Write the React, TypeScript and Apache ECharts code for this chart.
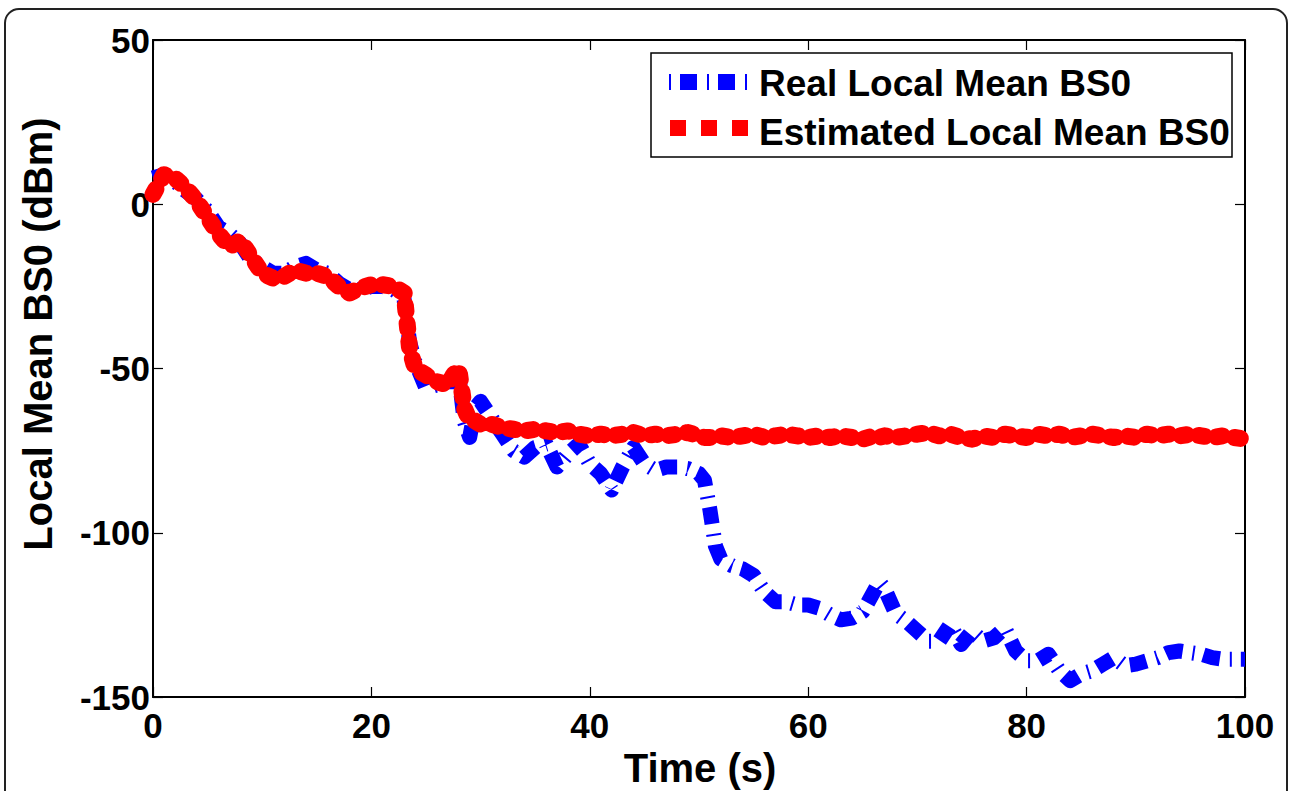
import React, { useEffect, useRef } from "react";
import * as echarts from "echarts";

// Sample times (s); a few half-second samples where the level changes quickly
const timeSec = [
  0, 1, 2, 3, 4, 5, 6, 7, 8, 9, 10, 11, 12, 13, 14, 15, 16, 17, 18, 19, 20, 21, 22, 22.5, 23, 23.5,
  24, 25, 26, 27, 27.5, 28, 28.5, 29, 29.5, 30, 31, 32, 33, 34, 35, 36, 37, 38, 39, 40, 41, 42, 43,
  44, 45, 46, 47, 48, 49, 50, 50.5, 51, 51.5, 52, 53, 54, 55, 56, 57, 58, 59, 60, 61, 62, 63, 64, 65,
  66, 66.5, 67, 68, 69, 70, 71, 72, 73, 74, 75, 76, 77, 78, 79, 80, 81, 82, 83, 84, 85, 86, 87, 88,
  89, 90, 91, 92, 93, 94, 95, 96, 97, 98, 99, 100,
];

// Real local mean of BS0 (dBm)
const realLocalMean = [
  8, 9, 7, 4, 1.5, -2, -7, -9, -12, -17, -19, -21, -21, -19, -18, -20, -21, -24, -26, -26, -25, -25,
  -26, -27, -29, -42, -48, -56, -55, -54, -54, -52, -66, -71, -62, -60, -65, -70, -75, -77, -74, -73,
  -80, -76, -73, -79, -82, -87, -80, -74, -79, -81, -80, -80, -80.5, -82, -84, -93, -104, -108, -110,
  -111, -113, -118, -121, -121, -122, -122, -123, -125, -126.5, -126, -124, -118, -115, -117, -124.5,
  -127, -130, -133, -133, -128, -134, -130, -133, -132, -129, -136, -139, -139, -137, -142, -145, -143,
  -142, -140, -138, -140.5, -140, -139, -138, -136.5, -136, -136.5, -137, -138, -138.5, -138.5, -138.5,
];

// Estimated local mean of BS0 (dBm)
const estimatedLocalMean = [
  3, 9, 8, 5, 1, -4, -9, -13, -11, -16, -21, -22.5, -22, -20, -21, -21, -22, -25, -27, -25.5, -24.5,
  -24.5, -25, -26, -27, -44, -50, -52, -54, -55, -52, -50, -62, -66, -66, -67, -67, -68, -68.5, -69,
  -68.5, -69, -69.5, -69, -70, -70.5, -70, -70.5, -70, -69.5, -70.5, -70, -70.5, -70, -69.5, -70.5,
  -71, -71, -71, -70.5, -71, -70.5, -70, -71, -70.5, -70, -70.5, -71, -70.5, -71, -70.5, -71, -71.5,
  -70.5, -71, -70.5, -71, -70.5, -70, -69.5, -70.5, -70, -71, -71.5, -70.5, -71, -70, -70.5, -71, -70,
  -70.5, -70, -71, -70.5, -70, -70.5, -71, -70.5, -71, -70, -70.5, -70, -70.5, -70, -70.5, -71, -70.5,
  -71, -71.5,
];

const seriesNames = ["Real Local Mean BS0", "Estimated Local Mean BS0"];
const axisTitles = { x: "Time (s)", y: "Local Mean BS0 (dBm)" };

const FONT = "'Liberation Sans', Arial, Helvetica, sans-serif";
const BLUE = "#0000ff";
const RED = "#ff0000";
const BLUE_DASH = [17, 10, 2, 9];
const RED_DASH = [6, 12];

export default function App() {
  const ref = useRef<HTMLDivElement>(null);

  useEffect(() => {
    if (!ref.current) return;
    const chart = echarts.init(ref.current, null, { renderer: "svg" });

    const realData = timeSec.map((t, i) => [t, realLocalMean[i]]);
    const estData = timeSec.map((t, i) => [t, estimatedLocalMean[i]]);

    const axisLine = { show: true, onZero: false, lineStyle: { color: "#000", width: 2 } };
    const axisTick = { show: true, inside: true, length: 10, lineStyle: { color: "#000", width: 1.2 } };
    const tickFont = { color: "#000", fontFamily: FONT, fontWeight: "bold", fontSize: 35 };

    chart.setOption({
      animation: false,
      backgroundColor: "#ffffff",
      grid: { left: 153, top: 40, right: 45, bottom: 94, containLabel: false },
      xAxis: [
        {
          type: "value",
          min: 0,
          max: 100,
          interval: 20,
          position: "bottom",
          axisLine,
          axisTick,
          splitLine: { show: false },
          axisLabel: { margin: 11, ...tickFont },
        },
        {
          type: "value",
          min: 0,
          max: 100,
          interval: 20,
          position: "top",
          axisLine,
          axisTick,
          splitLine: { show: false },
          axisLabel: { show: false },
        },
      ],
      yAxis: [
        {
          type: "value",
          min: -150,
          max: 50,
          interval: 50,
          position: "left",
          axisLine,
          axisTick,
          splitLine: { show: false },
          axisLabel: { margin: 3, ...tickFont },
        },
        {
          type: "value",
          min: -150,
          max: 50,
          interval: 50,
          position: "right",
          axisLine,
          axisTick,
          splitLine: { show: false },
          axisLabel: { show: false },
        },
      ],
      series: [
        {
          name: seriesNames[0],
          type: "line",
          data: realData,
          showSymbol: false,
          symbol: "none",
          silent: true,
          lineStyle: { color: BLUE, width: 15, type: BLUE_DASH, cap: "butt", join: "round" },
          z: 2,
        },
        {
          name: seriesNames[1],
          type: "line",
          data: estData,
          showSymbol: false,
          symbol: "none",
          silent: true,
          lineStyle: { color: RED, width: 17, type: RED_DASH, cap: "round", join: "round" },
          z: 3,
        },
      ],
      graphic: [
        {
          type: "rect",
          z: -10,
          silent: true,
          shape: { x: 5, y: 9, width: 1282, height: 820, r: 14 },
          style: { fill: "none", stroke: "#222", lineWidth: 2 },
        },
        {
          type: "text",
          silent: true,
          x: 38,
          y: 334,
          rotation: Math.PI / 2,
          style: {
            text: axisTitles.y,
            fill: "#000",
            font: `bold 40px ${FONT}`,
            align: "center",
            verticalAlign: "middle",
          },
        },
        {
          type: "text",
          silent: true,
          x: 700,
          y: 768,
          style: {
            text: axisTitles.x,
            fill: "#000",
            font: `bold 40px ${FONT}`,
            align: "center",
            verticalAlign: "middle",
          },
        },
        {
          type: "group",
          z: 100,
          children: [
            {
              type: "rect",
              silent: true,
              shape: { x: 651, y: 53, width: 581, height: 104 },
              style: { fill: "#fff", stroke: "#000", lineWidth: 1.5 },
            },
            {
              type: "line",
              silent: true,
              shape: { x1: 669, y1: 82, x2: 749, y2: 82 },
              style: { stroke: BLUE, lineWidth: 16, lineDash: [2, 9, 17, 10], lineCap: "butt" },
            },
            {
              type: "line",
              silent: true,
              shape: { x1: 670, y1: 128, x2: 748, y2: 128 },
              style: { stroke: RED, lineWidth: 16, lineDash: [16, 15], lineCap: "butt" },
            },
            {
              type: "text",
              silent: true,
              x: 759,
              y: 83,
              style: {
                text: seriesNames[0],
                fill: "#000",
                font: `bold 37px ${FONT}`,
                align: "left",
                verticalAlign: "middle",
              },
            },
            {
              type: "text",
              silent: true,
              x: 759,
              y: 132,
              style: {
                text: seriesNames[1],
                fill: "#000",
                font: `bold 37px ${FONT}`,
                align: "left",
                verticalAlign: "middle",
              },
            },
          ],
        },
      ],
    });

    return () => chart.dispose();
  }, []);

  return (
    <div
      ref={ref}
      style={{ position: "absolute", left: 0, top: 0, width: 1290, height: 791, background: "#fff" }}
    />
  );
}
